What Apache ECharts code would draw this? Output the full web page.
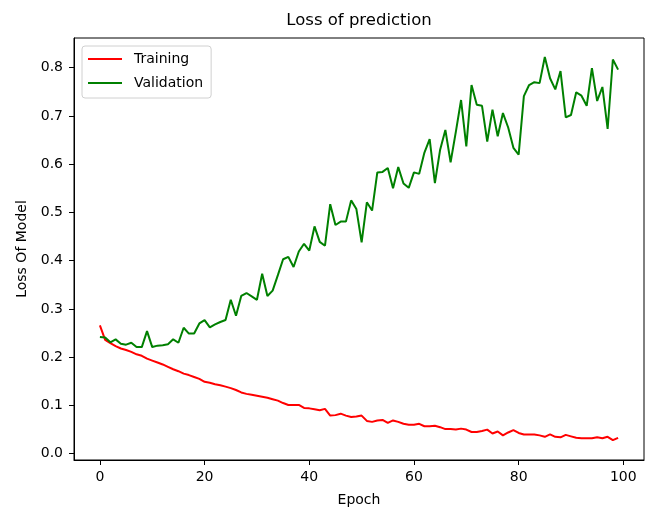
<!DOCTYPE html>
<html>
<head>
<meta charset="utf-8">
<script src="https://cdn.jsdelivr.net/npm/echarts@6/dist/echarts.min.js"></script>
<style>html,body{margin:0;padding:0;background:#fff}#c{width:649px;height:512px}</style>
</head>
<body>
<div id="c"></div>
<script>
const epochs = Array.from({length: 100}, (_, i) => i);
const training = [
0.266,0.236,0.229,0.223,0.218,0.215,0.211,0.206,0.203,0.197,
0.193,0.189,0.185,0.180,0.175,0.171,0.166,0.163,0.159,0.155,
0.149,0.147,0.144,0.142,0.139,0.136,0.132,0.127,0.124,0.122,
0.120,0.118,0.116,0.113,0.110,0.105,0.101,0.101,0.101,0.095,
0.094,0.092,0.090,0.093,0.079,0.080,0.083,0.079,0.076,0.077,
0.079,0.068,0.066,0.069,0.070,0.064,0.069,0.066,0.062,0.060,
0.060,0.062,0.057,0.057,0.058,0.055,0.051,0.051,0.050,0.052,
0.050,0.045,0.045,0.047,0.050,0.042,0.046,0.038,0.044,0.049,
0.043,0.040,0.040,0.040,0.038,0.035,0.040,0.035,0.034,0.039,
0.036,0.033,0.032,0.032,0.032,0.034,0.032,0.035,0.028,0.033
];
const validation = [
0.242,0.241,0.231,0.237,0.228,0.226,0.230,0.221,0.221,0.254,
0.221,0.224,0.225,0.227,0.237,0.230,0.261,0.249,0.249,0.270,
0.277,0.262,0.268,0.273,0.277,0.319,0.286,0.327,0.333,0.326,
0.319,0.373,0.327,0.338,0.370,0.403,0.408,0.387,0.419,0.435,
0.421,0.471,0.439,0.431,0.517,0.474,0.481,0.481,0.525,0.507,
0.438,0.521,0.504,0.583,0.584,0.592,0.550,0.594,0.560,0.551,
0.583,0.580,0.624,0.652,0.561,0.630,0.671,0.604,0.667,0.733,
0.637,0.764,0.723,0.721,0.647,0.713,0.658,0.706,0.676,0.634,
0.620,0.741,0.764,0.770,0.768,0.822,0.778,0.755,0.793,0.697,
0.702,0.749,0.742,0.721,0.799,0.731,0.760,0.673,0.817,0.796
];
const xTicks = [0, 20, 40, 60, 80, 100];
const yTicks = [0.0, 0.1, 0.2, 0.3, 0.4, 0.5, 0.6, 0.7, 0.8];

const FONT = 'DejaVu Sans';
const chart = echarts.init(document.getElementById('c'), null, {renderer: 'canvas'});
chart.setOption({
  animation: false,
  backgroundColor: '#fff',
  textStyle: {fontFamily: FONT},
  graphic: [{
    type: 'text', x: 359, y: 21,
    style: {text: 'Loss of prediction', font: '16.5px "DejaVu Sans"', fill: '#000', textAlign: 'center', textVerticalAlign: 'middle'}
  }],
  grid: {left: 74, right: 5, top: 38, bottom: 49, show: true, borderColor: '#000', borderWidth: 1, backgroundColor: 'transparent'},
  legend: {
    orient: 'vertical', left: 82, top: 46,
    itemWidth: 34, itemHeight: 2, itemGap: 10,
    padding: [6, 8, 8, 6],
    borderColor: '#d0d0d0', borderWidth: 1, borderRadius: 3, backgroundColor: 'rgba(255,255,255,0.8)',
    textStyle: {fontFamily: FONT, fontSize: 14, color: '#000', lineHeight: 14, padding: [0, 0, 0, 7]},
    data: [{name: 'Training', icon: 'rect'}, {name: 'Validation', icon: 'rect'}]
  },
  xAxis: {
    type: 'value', min: -4.95, max: 103.95,
    name: 'Epoch', nameLocation: 'middle', nameGap: 33,
    nameTextStyle: {fontFamily: FONT, fontSize: 14, color: '#000'},
    axisLine: {show: true, onZero: false, lineStyle: {color: '#000', width: 1}},
    axisTick: {show: true, length: 5, lineStyle: {color: '#000'}, customValues: xTicks},
    axisLabel: {fontFamily: FONT, fontSize: 14, color: '#000', margin: 10, customValues: xTicks, formatter: v => String(Math.round(v))},
    splitLine: {show: false}
  },
  yAxis: {
    type: 'value', min: -0.013, max: 0.8615,
    name: 'Loss Of Model', nameLocation: 'middle', nameGap: 45,
    nameTextStyle: {fontFamily: FONT, fontSize: 14, color: '#000'},
    axisLine: {show: true, onZero: false, lineStyle: {color: '#000', width: 1}},
    axisTick: {show: true, length: 5, lineStyle: {color: '#000'}, customValues: yTicks},
    axisLabel: {fontFamily: FONT, fontSize: 14, color: '#000', margin: 11, customValues: yTicks, formatter: v => v.toFixed(1)},
    splitLine: {show: false}
  },
  series: [
    {name: 'Training', type: 'line', data: epochs.map((e, i) => [e, training[i]]), showSymbol: false, symbol: 'none',
     lineStyle: {color: '#ff0000', width: 2}, itemStyle: {color: '#ff0000'}},
    {name: 'Validation', type: 'line', data: epochs.map((e, i) => [e, validation[i]]), showSymbol: false, symbol: 'none',
     lineStyle: {color: '#008000', width: 2}, itemStyle: {color: '#008000'}}
  ]
});
</script>
</body>
</html>
